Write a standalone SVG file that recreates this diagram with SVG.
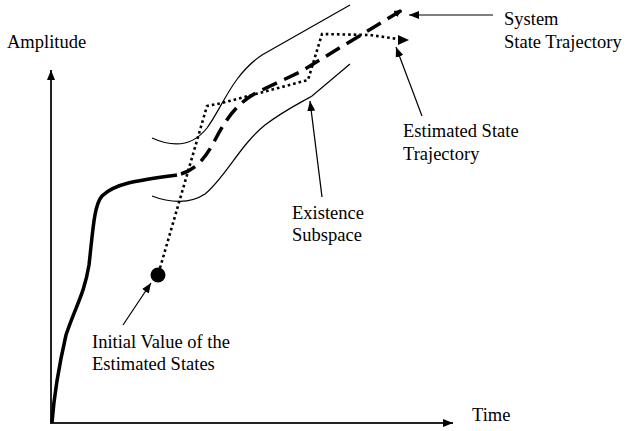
<svg xmlns="http://www.w3.org/2000/svg" width="626" height="431" viewBox="0 0 626 431">
<defs>
<style>
text{font-family:"Liberation Serif","Times New Roman",serif;font-size:18.5px;fill:#000}
.thin{fill:none;stroke:#000;stroke-width:1.2}
.ax{fill:none;stroke:#222;stroke-width:2}
</style>
<marker id="ah" viewBox="0 0 10 10" refX="10" refY="5" markerWidth="10" markerHeight="10" markerUnits="userSpaceOnUse" orient="auto"><path d="M0,1 L10,5 L0,9 z" fill="#000"/></marker>
<marker id="ahs" viewBox="0 0 10 10" refX="10" refY="5" markerWidth="8" markerHeight="8" markerUnits="userSpaceOnUse" orient="auto"><path d="M0,0.5 L10,5 L0,9.5 z" fill="#000"/></marker>
</defs>
<rect width="626" height="431" fill="#fff"/>
<g id="axes">
<line class="ax" x1="51" y1="424" x2="51" y2="70" marker-end="url(#ah)"/>
<line class="ax" x1="51" y1="423" x2="453" y2="423" marker-end="url(#ah)"/>
<text x="7" y="48">Amplitude</text>
<text x="472" y="421">Time</text>
</g>
<g id="existence-subspace">
<path class="thin" d="M152,138 C172,147 192,147 207,128 C222,108 232,75 262,55 L350,5"/>
<path class="thin" d="M152,196 C170,203 190,204 205,194 C225,178 240,145 265,125 C285,110 300,103 312,96 L350,64"/>
</g>
<g id="system-trajectory">
<path d="M52,423 C54,395 58,370 66,335 C76,305 84,295 89,265 C93,230 94,205 102,196 C115,183 140,180 177,175" fill="none" stroke="#000" stroke-width="3.5"/>
<path d="M181,174 C197,169 206,157 215,140 C228,115 240,100 262,90 L300,72 L402,10" fill="none" stroke="#000" stroke-width="3.5" stroke-dasharray="16 8" marker-end="url(#ahs)"/>
</g>
<g id="estimated-trajectory">
<circle cx="158" cy="275" r="7.5" fill="#000"/>
<path d="M160,268 L207,106 L222,103 L308,80 L322,34 L370,35 L398,39" fill="none" stroke="#000" stroke-width="2.6" stroke-dasharray="2.6 3"/>
<path d="M398,35 L409,40 L398,45 z" fill="#000"/>
</g>
<g id="connectors">
<line class="thin" x1="493" y1="15" x2="409" y2="15" marker-end="url(#ah)"/>
<line class="thin" x1="422" y1="116" x2="396" y2="47" marker-end="url(#ah)"/>
<line class="thin" x1="322" y1="197" x2="310" y2="101" marker-end="url(#ah)"/>
<line class="thin" x1="123" y1="325" x2="151" y2="283" marker-end="url(#ah)"/>
</g>
<g id="labels">
<text x="504" y="25">System</text>
<text x="504" y="48">State Trajectory</text>
<text x="403" y="137">Estimated State</text>
<text x="403" y="160">Trajectory</text>
<text x="292" y="219">Existence</text>
<text x="292" y="241">Subspace</text>
<text x="92" y="348">Initial Value of the</text>
<text x="92" y="370">Estimated States</text>
</g>
</svg>
